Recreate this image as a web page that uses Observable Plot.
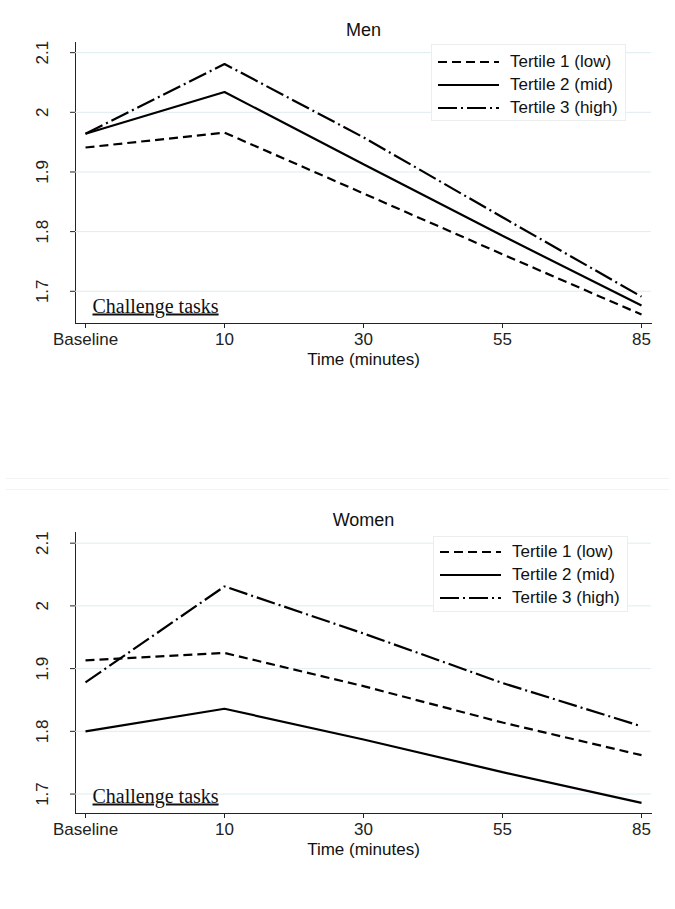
<!DOCTYPE html>
<html>
<head>
<meta charset="utf-8">
<script src="https://cdn.jsdelivr.net/npm/d3@7"></script>
<script src="https://cdn.jsdelivr.net/npm/@observablehq/plot@0.6"></script>
<style>
  html, body { margin: 0; padding: 0; background: #fff; }
  body { width: 675px; height: 909px; position: relative; overflow: hidden; font-family: "Liberation Sans", Arial, sans-serif; color: #111; }
  .panel { position: absolute; left: 0; width: 675px; }
  .legend { position: absolute; background: #fff; border: 1px solid #eceeee; box-sizing: border-box; }
  .legend .row { position: absolute; left: 0; height: 20px; display: flex; align-items: center; font-size: 17px; white-space: nowrap; }
  .legend .row svg { margin-left: 6px; margin-right: 11px; }
  .sep { position: absolute; left: 6px; width: 663px; height: 0; border-top: 1px solid #f1f3f3; }
</style>
</head>
<body>
<div id="men" class="panel" style="top:0px"></div>
<div id="women" class="panel" style="top:490px"></div>
<div class="sep" style="top:478px"></div>
<div class="sep" style="top:489px"></div>
<script>
// ---- data ----
const times = ["Baseline", "10", "30", "55", "85"];
const seriesNames = ["Tertile 1 (low)", "Tertile 2 (mid)", "Tertile 3 (high)"];
const yTicks = [1.7, 1.8, 1.9, 2, 2.1];

const menLow  = [1.941, 1.966, 1.864, 1.762, 1.661];
const menMid  = [1.964, 2.034, 1.913, 1.793, 1.676];
const menHigh = [1.964, 2.081, 1.958, 1.824, 1.691];

const womenLow  = [1.913, 1.925, 1.872, 1.814, 1.762];
const womenMid  = [1.800, 1.836, 1.787, 1.735, 1.686];
const womenHigh = [1.878, 2.031, 1.956, 1.877, 1.808];

const menDomain = [1.646, 2.117];
const womenDomain = [1.669, 2.117];

// ---- styles ----
const dashes = ["9,5", null, "19,4,2,4"];
const FONT = "'Liberation Sans', Arial, sans-serif";

function rows(vals) {
  return vals.map((v, i) => ({time: times[i], value: v}));
}

function panel(title, series, domain) {
  const marks = [
    Plot.gridY(yTicks, {stroke: "#dfecee", strokeOpacity: 1, strokeWidth: 1})
  ];
  series.forEach((vals, i) => {
    marks.push(Plot.line(rows(vals), {
      x: "time", y: "value",
      stroke: "#000", strokeWidth: 2.2,
      strokeDasharray: dashes[i] || undefined,
      strokeLinejoin: "miter", strokeLinecap: "butt"
    }));
  });
  marks.push(Plot.text([title], {text: d => d, frameAnchor: "top", dy: -12, lineAnchor: "middle", fontSize: 18, fill: "#111"}));
  marks.push(Plot.text(["Time (minutes)"], {text: d => d, frameAnchor: "bottom", dy: 36, lineAnchor: "middle", fontSize: 17, fill: "#111"}));
  marks.push(Plot.text(["Challenge tasks"], {text: d => d, frameAnchor: "bottom-left", dx: 17, dy: -11, textAnchor: "start", lineAnchor: "bottom", fontSize: 20, fontFamily: "'Liberation Serif', 'Times New Roman', serif", fill: "#111"}));
  const svg = Plot.plot({
    width: 675,
    height: 380,
    marginTop: 42,
    marginBottom: 57,
    marginLeft: 75,
    marginRight: 24,
    style: {fontFamily: FONT, fontSize: "17px", color: "#222", background: "#fff"},
    x: {type: "point", domain: times, padding: 0.07, tickSize: 5, tickPadding: 4, label: null, line: true},
    y: {domain: domain, ticks: yTicks, tickFormat: d => String(d), tickRotate: -90, tickSize: 5, tickPadding: 23, label: null, line: true},
    marks
  });
  d3.select(svg).selectAll("text").filter(function() { return this.textContent === "Challenge tasks"; })
    .attr("text-decoration", "underline");
  return svg;
}

function legend(container, box) {
  const lg = document.createElement("div");
  lg.className = "legend";
  lg.style.left = box.left + "px";
  lg.style.top = box.top + "px";
  lg.style.width = box.width + "px";
  lg.style.height = box.height + "px";
  seriesNames.forEach((name, i) => {
    const row = document.createElement("div");
    row.className = "row";
    row.style.top = (box.rowTop + i * 23 - 10) + "px";
    const s = d3.create("svg").attr("width", 61).attr("height", 6);
    s.append("line").attr("x1", 0).attr("x2", 61).attr("y1", 3).attr("y2", 3)
      .attr("stroke", "#000").attr("stroke-width", 2.2)
      .attr("stroke-dasharray", dashes[i] || null);
    row.appendChild(s.node());
    const t = document.createElement("span");
    t.textContent = name;
    row.appendChild(t);
    lg.appendChild(row);
  });
  container.appendChild(lg);
}

const men = document.getElementById("men");
men.appendChild(panel("Men", [menLow, menMid, menHigh], menDomain));
legend(men, {left: 431, top: 44, width: 195, height: 77, rowTop: 17});

const women = document.getElementById("women");
women.appendChild(panel("Women", [womenLow, womenMid, womenHigh], womenDomain));
legend(women, {left: 433, top: 46, width: 195, height: 76, rowTop: 15});
</script>
</body>
</html>
